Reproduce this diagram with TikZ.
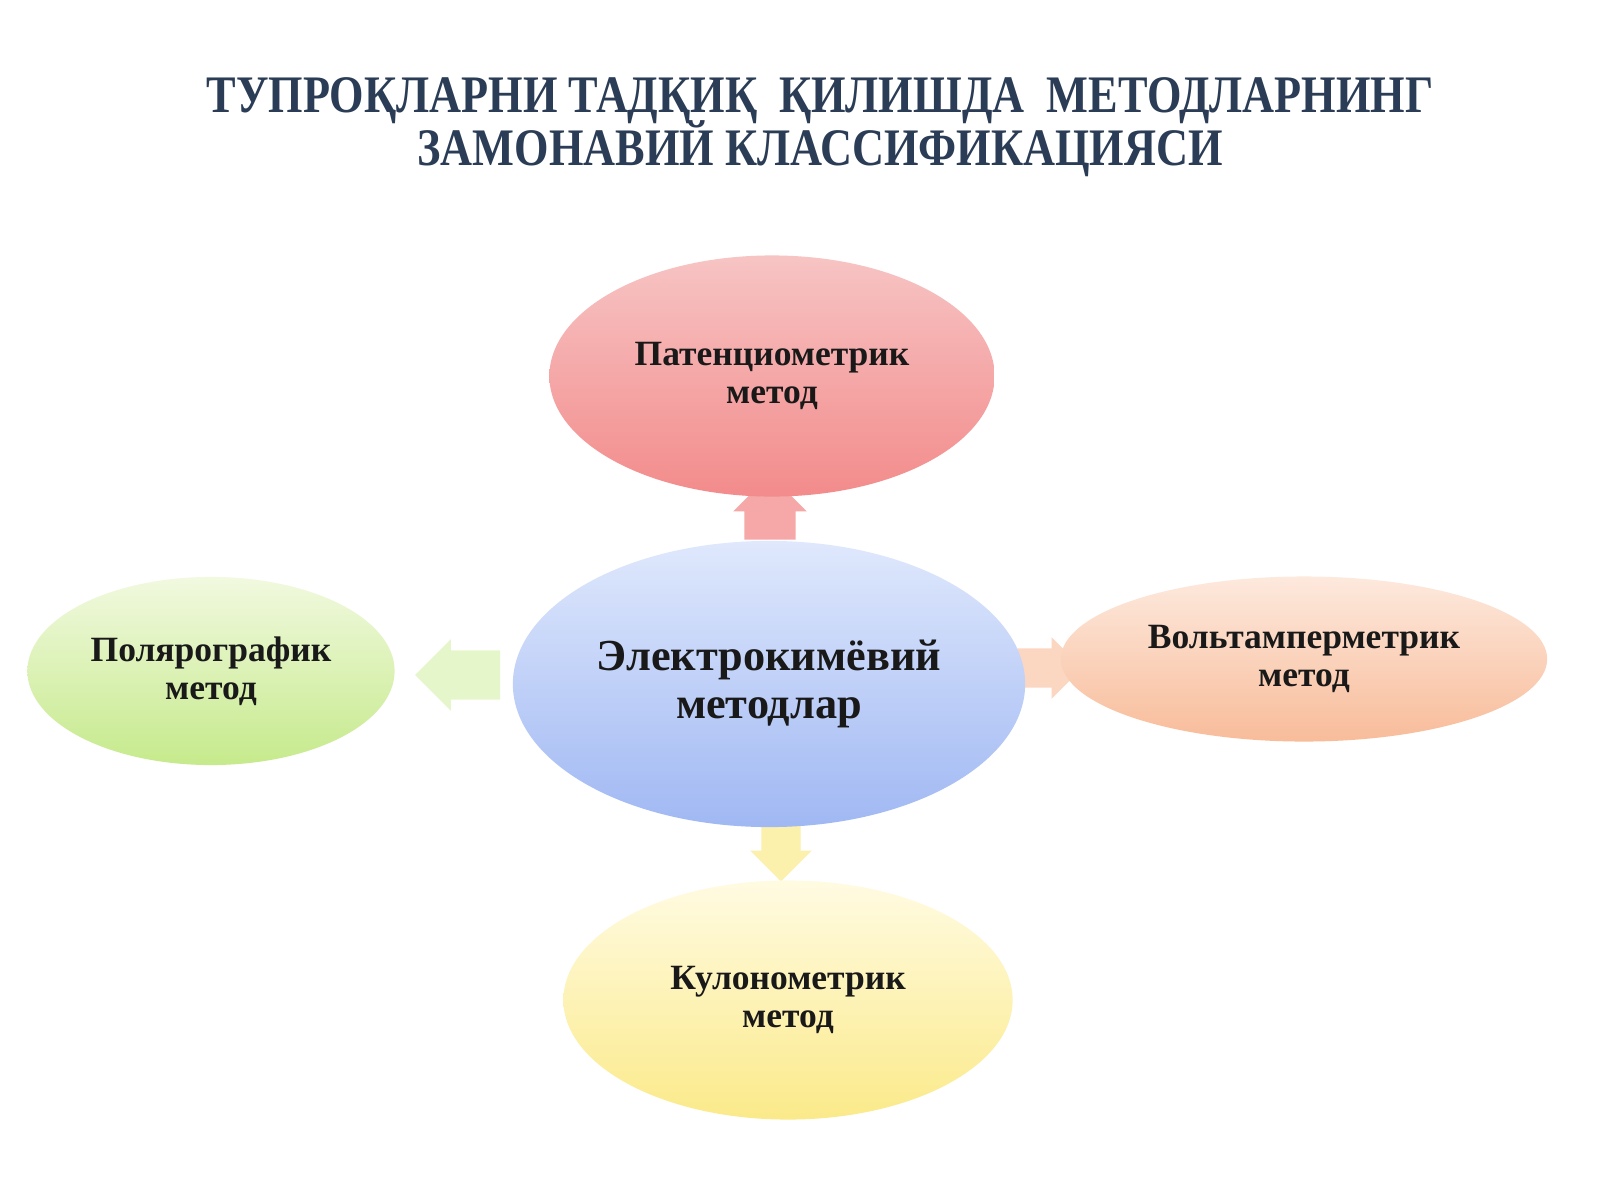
\documentclass[tikz,border=0pt]{standalone}
\usepackage{fontspec}
\setmainfont{Liberation Serif}
\newfontfamily\titlefont[FakeStretch=0.84]{Liberation Serif}
\usetikzlibrary{shapes.geometric, shapes.arrows}
\newcommand\tightlines{\lineskiplimit=-20pt\relax}
\definecolor{titleblue}{HTML}{2B3D56}
\definecolor{redtop}{HTML}{F7C4C4}
\definecolor{redbot}{HTML}{F38B8B}
\definecolor{bluetop}{HTML}{DFE8FC}
\definecolor{bluebot}{HTML}{A0B8F3}
\definecolor{greentop}{HTML}{F1F9DF}
\definecolor{greenbot}{HTML}{C6EA8C}
\definecolor{orangetop}{HTML}{FDE9DD}
\definecolor{orangebot}{HTML}{F8BC9A}
\definecolor{yellowtop}{HTML}{FFFBE2}
\definecolor{yellowbot}{HTML}{FBEA8A}
\tikzstyle{method}=[ellipse, inner sep=0pt, align=center, text=black!90,
  font=\bfseries\fontsize{10.1}{10.7}\selectfont]
\tikzstyle{blockarrow}=[single arrow, inner xsep=0pt, single arrow head extend=0.11cm]

\begin{document}
\begin{tikzpicture}[x=0.01cm, y=-0.01cm]
\useasboundingbox[fill=white] (0,0) rectangle (1600,1200);
% Title
    \node[font=\titlefont\bfseries\fontsize{15}{15}\selectfont\tightlines, text=titleblue, align=center]
      (title) at (820,127) {ТУПРОҚЛАРНИ ТАДҚИҚ\ \ ҚИЛИШДА\ \ МЕТОДЛАРНИНГ\\ЗАМОНАВИЙ КЛАССИФИКАЦИЯСИ};
% Arrows (under the ellipses)
    \node[blockarrow, rotate=90, minimum height=0.65cm, inner ysep=0.25cm,
      fill=redbot!75] (uparrow) at (770,520) {};
    \node[blockarrow, rotate=180, minimum height=0.85cm, inner ysep=0.24cm,
      fill=greenbot!45] (leftarrow) at (470,675) {};
    \node[blockarrow, minimum height=0.65cm, inner ysep=0.19cm,
      fill=orangebot!60] (rightarrow) at (1040,668) {};
    \node[blockarrow, rotate=270, minimum height=0.57cm, inner ysep=0.19cm,
      fill=yellowbot!70] (downarrow) at (781,843) {};
% Methods
    \node[method, minimum width=5.12cm, minimum height=2.86cm, top color=bluetop, bottom color=bluebot,
      font=\bfseries\fontsize{12.6}{13.7}\selectfont] (electro) at (769,684) {Электрокимёвий\\методлар};
    \node[method, minimum width=4.45cm, minimum height=2.41cm, top color=redtop, bottom color=redbot]
      (poten) at (772,376) {Патенциометрик\\метод};
    \node[method, minimum width=3.67cm, minimum height=1.88cm, top color=greentop, bottom color=greenbot]
      (polyar) at (211,671) {Полярографик\\метод};
    \node[method, minimum width=4.86cm, minimum height=1.65cm, top color=orangetop, bottom color=orangebot]
      (volt) at (1304,659) {Вольтамперметрик\\метод};
    \node[method, minimum width=4.49cm, minimum height=2.39cm, top color=yellowtop, bottom color=yellowbot]
      (kulon) at (788,1000) {Кулонометрик\\метод};
\end{tikzpicture}
\end{document}
